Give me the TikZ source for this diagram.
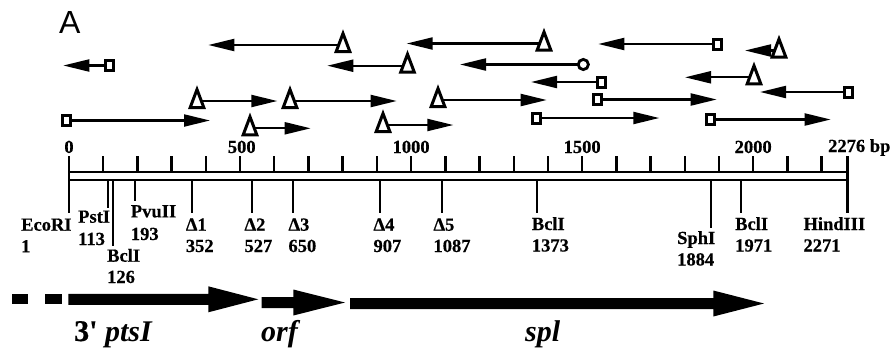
\documentclass[tikz,border=0pt]{standalone}
\usepackage{fontspec}
\setmainfont{Liberation Serif}[BoldFeatures={FakeBold=0.5}]
\newfontfamily\panelfont{Liberation Sans}
\usetikzlibrary{arrows.meta,backgrounds}

\tikzset{
  seq/.style={line width=2.1pt, -{Triangle[length=26pt,width=12pt]}},
  markline/.style={line width=3pt, line join=miter, fill=white},
  tribox/.style={inner sep=0pt, minimum size=1pt},
  sqmark/.style={draw, rectangle, line width=3pt, fill=white, inner sep=0pt,
                 minimum width=8pt, minimum height=10pt},
  circmark/.style={draw, circle, line width=2.8pt, fill=white, inner sep=0pt,
                   minimum size=10.2pt},
  rulebar/.style={line width=2.5pt},
  ticks/.style={line width=2.4pt},
  siteline/.style={line width=2.3pt},
  scalelab/.style={inner sep=0pt, anchor=base, font=\bfseries\fontsize{18.5}{19}\selectfont},
  sitelab/.style={inner sep=0pt, anchor=base west, font=\bfseries\fontsize{18.5}{19}\selectfont},
  genelab/.style={inner sep=0pt, anchor=base west, font=\bfseries\fontsize{30}{30}\selectfont},
}

% open triangle marker whose centre sits on the sequencing line
\newcommand\trimark[2]{%
  \node[tribox] (#1) at (#2) {};
  \draw[markline] (#1.center) ++(-6.8,6.5) -- ++(6.8,-18) -- ++(6.8,18) -- cycle;
}
% restriction / deletion site: tick below the bar plus two-line label
\newcommand\site[8]{% id, x, line end y, name, number, label x, name baseline, number baseline
  \draw[siteline] (#2,180) -- (#2,#3);
  \node[sitelab] (#1n) at (#6,#7) {#4};
  \node[sitelab] (#1v) at (#6,#8) {#5};
}
% thick gene arrow: start x, head base x, tip x, centre y
\newcommand\genearrow[4]{%
  \fill (#1,#4-5.5) -- (#2,#4-5.5) -- (#2,#4-13) -- (#3,#4) -- (#2,#4+13)
        -- (#2,#4+5.5) -- (#1,#4+5.5) -- cycle;
}

\begin{document}
\begin{tikzpicture}[x=1pt,y=-1pt]
\useasboundingbox (0,0) rectangle (890,349);

\node[inner sep=0pt, anchor=base west, font=\panelfont\fontsize{32}{32}\selectfont] (panel) at (59,33) {A};

% ---- sequencing strategy: markers ----
\trimark{t1}{343,45}
\trimark{t2}{544,43.5}
\node[sqmark] (s3) at (717,44) {};
\trimark{t4}{779,50.5}
\node[sqmark] (s5) at (109.7,65.5) {};
\trimark{t6}{407.5,65.7}
\node[circmark] (c7) at (583.3,64.5) {};
\trimark{t8}{754,77.3}
\node[sqmark] (s9) at (601.7,82) {};
\node[sqmark] (s10) at (848,92) {};
\trimark{t11}{197,101}
\trimark{t12}{290,101}
\trimark{t13}{438,100}
\node[sqmark] (s14) at (597,99.5) {};
\node[sqmark] (s15) at (66,120.5) {};
\trimark{t16}{250,128.3}
\trimark{t17}{383,125}
\node[sqmark] (s18) at (536.7,118) {};
\node[sqmark] (s19) at (710,119.5) {};

% free ends of the reads
\coordinate (e1) at (208.3,45);
\coordinate (e2) at (406.7,43.5);
\coordinate (e3) at (598.3,44);
\coordinate (e4) at (745,50.5);
\coordinate (e5) at (63.3,65.5);
\coordinate (e6) at (327.3,65.7);
\coordinate (e7) at (460,64.5);
\coordinate (e8) at (685,77.3);
\coordinate (e9) at (531,82);
\coordinate (e10) at (760,92);
\coordinate (e11) at (277.3,101);
\coordinate (e12) at (396.7,101);
\coordinate (e13) at (546.7,100);
\coordinate (e14) at (716.7,99.5);
\coordinate (e15) at (210,120.5);
\coordinate (e16) at (310.7,128.3);
\coordinate (e17) at (453.3,125);
\coordinate (e18) at (659.3,118);
\coordinate (e19) at (830.7,119.5);

\begin{pgfonlayer}{background}
  \fill[white] (0,0) rectangle (890,349);
  \draw[seq] (t1.center) -- (e1);
  \draw[seq] (t2.center) -- (e2);
  \draw[seq] (s3.center) -- (e3);
  \draw[seq] (t4.center) -- (e4);
  \draw[seq] (s5.center) -- (e5);
  \draw[seq] (t6.center) -- (e6);
  \draw[seq] (c7.center) -- (e7);
  \draw[seq] (t8.center) -- (e8);
  \draw[seq] (s9.center) -- (e9);
  \draw[seq] (s10.center) -- (e10);
  \draw[seq] (t11.center) -- (e11);
  \draw[seq] (t12.center) -- (e12);
  \draw[seq] (t13.center) -- (e13);
  \draw[seq] (s14.center) -- (e14);
  \draw[seq] (s15.center) -- (e15);
  \draw[seq] (t16.center) -- (e16);
  \draw[seq] (t17.center) -- (e17);
  \draw[seq] (s18.center) -- (e18);
  \draw[seq] (s19.center) -- (e19);
\end{pgfonlayer}

% ---- scale bar ----
\begin{scope}[xshift=69pt, x=0.3421pt]
  \draw[rulebar] (0,171.8) rectangle (2276,179.8);
  \foreach \b in {0,100,...,2200,2276}
    \draw[ticks] (\b,156) -- (\b,171.8);
  \node[scalelab] (l0) at (0,153) {0};
  \node[scalelab] (l500) at (505,153) {500};
  \node[scalelab] (l1000) at (1000,153) {1000};
  \node[scalelab] (l1500) at (1500,153) {1500};
  \node[scalelab] (l2000) at (2000,153) {2000};
\end{scope}
\node[scalelab, anchor=base west] (lend) at (828,152) {2276 bp};

% ---- sites ----
\site{eco}{69}{213}{EcoRI}{1}{21}{230.7}{252.3}
\site{pst}{108.3}{208}{PstI}{113}{78}{222.7}{245}
\site{bclA}{113}{246}{BclI}{126}{107}{261.7}{283}
\site{pvu}{135.3}{201}{PvuII}{193}{130.7}{217.3}{240}
\site{da}{192.3}{213}{Δ1}{352}{185.7}{230.7}{252}
\site{db}{251.7}{213}{Δ2}{527}{244.3}{230.7}{252}
\site{dc}{293.3}{213}{Δ3}{650}{288.3}{230.7}{252}
\site{dd}{380}{213}{Δ4}{907}{373.3}{230.7}{252}
\site{de}{441.7}{213}{Δ5}{1087}{433.3}{230.7}{252}
\site{bclB}{536.7}{213}{BclI}{1373}{531.7}{230}{251.5}
\site{sph}{711}{228}{SphI}{1884}{677}{244}{265.5}
\site{bclC}{741}{213}{BclI}{1971}{735}{230}{251.5}
\site{hind}{847.4}{213}{HindIII}{2271}{803.3}{230}{251.5}

% ---- genes ----
\fill (11.7,294) rectangle (28.3,304);
\fill (45,294) rectangle (61.7,304);
\genearrow{68.3}{208.3}{258.3}{299.3}
\genearrow{261.7}{293.3}{345}{302.5}
\genearrow{350}{713.3}{764}{303.5}

\node[genelab] (gpts) at (74,341) {3\textquotesingle{} \textit{ptsI}};
\node[genelab] (gorf) at (261,341) {\textit{orf}};
\node[genelab] (gspl) at (525,341) {\textit{spl}};
\end{tikzpicture}
\end{document}
